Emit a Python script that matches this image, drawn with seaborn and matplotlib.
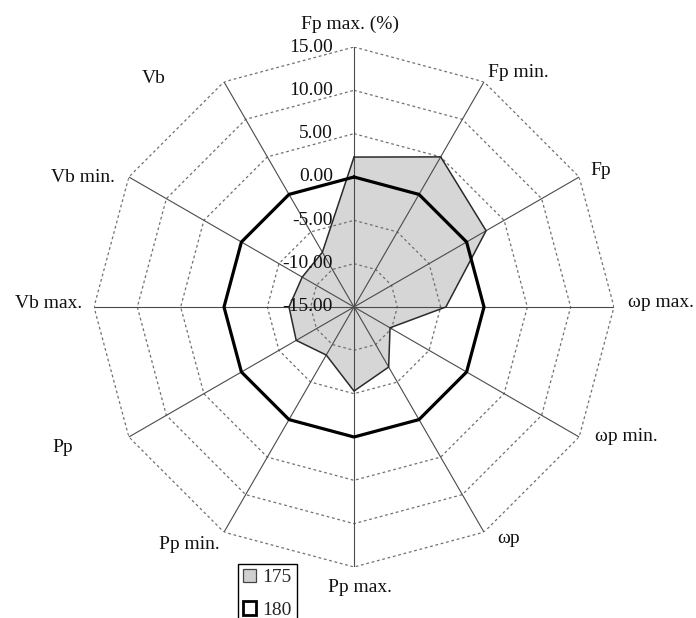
import numpy as np
import pandas as pd
import matplotlib
matplotlib.use("Agg")
import matplotlib.pyplot as plt
from matplotlib.patches import Patch
import seaborn as sns

# ---- data ----
categories = ["Fp max. (%)", "Fp min.", "Fp", "ωp max.", "ωp min.", "ωp",
              "Pp max.", "Pp min.", "Pp", "Vb max.", "Vb min.", "Vb"]
series_175 = [2.3, 5.0, 2.6, -4.4, -10.2, -7.0, -5.3, -8.6, -7.3, -7.5, -8.1, -7.7]
series_180 = [0.0, 0.0, 0.0, 0.0, 0.0, 0.0, 0.0, 0.0, 0.0, 0.0, 0.0, 0.0]
ticks = [-15, -10, -5, 0, 5, 10, 15]
series_names = ["175", "180"]

# ---- layout (label offsets in pixels, alignment) ----
label_offsets = [(-4, 23, "center"), (4, 9, "left"), (11, 6, "left"), (14, 4, "left"),
                 (16, 0, "left"), (13, -6, "left"), (6, -21, "center"), (-4, -12, "right"),
                 (-56, -10, "right"), (-12, 4, "right"), (-14, 0, "right"), (-58, 3, "right")]

sns.set_theme(style="white")
plt.rcParams["font.family"] = ["Liberation Serif", "DejaVu Serif"]
FS = 14

W, H = 696, 618
fig = plt.figure(figsize=(W / 100, H / 100), dpi=100)
cx, cy, R = 354, 307, 260
ax = fig.add_axes([(cx - R) / W, (H - cy - R) / H, 2 * R / W, 2 * R / H], projection="polar")
ax.set_theta_offset(np.pi / 2)
ax.set_theta_direction(-1)
ax.set_ylim(ticks[0], ticks[-1])
ax.grid(False)
ax.set_xticks([])
ax.set_yticks([])
ax.spines["polar"].set_visible(False)
ax.patch.set_alpha(0)

n = len(categories)
theta = np.linspace(0, 2 * np.pi, n, endpoint=False)
theta_c = np.append(theta, theta[0])

df = pd.DataFrame({
    "theta": np.concatenate([theta_c, theta_c]),
    "value": np.concatenate([np.append(series_175, series_175[0]),
                             np.append(series_180, series_180[0])]),
    "series": [series_names[0]] * (n + 1) + [series_names[1]] * (n + 1),
    "order": list(range(n + 1)) * 2,
})

# fill of series 175
ax.fill(theta_c, np.append(series_175, series_175[0]), facecolor="#d6d6d6",
        edgecolor="none", zorder=1)

# dotted polygonal grid
for v in ticks[1:]:
    ax.plot(theta_c, [v] * (n + 1), color="#707070", lw=0.9, ls=(0, (2.2, 2.2)), zorder=2)
# spokes
for t in theta:
    ax.plot([t, t], [ticks[0], ticks[-1]], color="#4a4a4a", lw=0.8, zorder=2)

d175 = df[df["series"] == "175"]
d180 = df[df["series"] == "180"]
sns.lineplot(data=d175, x="theta", y="value", sort=False, estimator=None,
             color="#2a2a2a", lw=1.1, ax=ax, legend=False, zorder=3)
sns.lineplot(data=d180, x="theta", y="value", sort=False, estimator=None,
             color="black", lw=2.3, ax=ax, legend=False, zorder=4)
ax.set_xlabel("")
ax.set_ylabel("")
ax.set_xticks([])
ax.set_yticks([])
ax.set_ylim(ticks[0], ticks[-1])

# tick labels along the top spoke
for v in ticks:
    ax.annotate(f"{v:.2f}", xy=(0, v), xytext=(-21, 0), textcoords="offset pixels",
                ha="right", va="center", fontsize=FS, color="#111111", zorder=6)

# category labels
for t, lab, (dx, dy, ha) in zip(theta, categories, label_offsets):
    ax.annotate(lab, xy=(t, ticks[-1]), xytext=(dx, dy), textcoords="offset pixels",
                ha=ha, va="center", fontsize=FS, color="#111111", annotation_clip=False)

# legend
handles = [Patch(facecolor="#d0d0d0", edgecolor="#444444", linewidth=0.9),
           Patch(facecolor="white", edgecolor="black", linewidth=2.0)]
leg = fig.legend(handles, series_names, loc="upper left",
                 bbox_to_anchor=(238 / W, 1 - 564 / H), fontsize=FS,
                 frameon=True, fancybox=False, framealpha=1, edgecolor="black",
                 handlelength=0.7, handleheight=0.7, handletextpad=0.3,
                 labelspacing=0.75, borderpad=0.25, borderaxespad=0)
leg.get_frame().set_linewidth(1.0)

fig.savefig("out.png", dpi=100, facecolor="white")
